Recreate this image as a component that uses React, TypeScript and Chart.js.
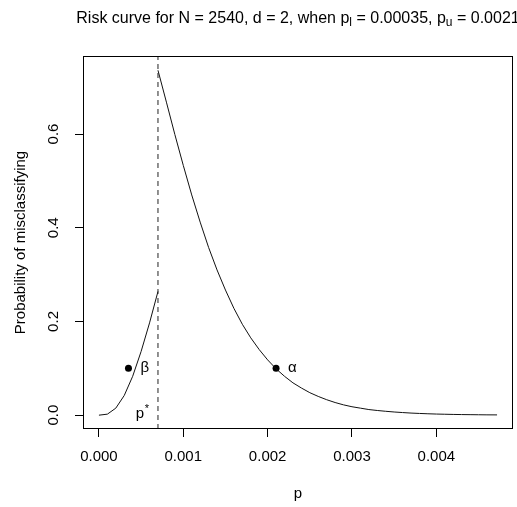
import React, { useEffect, useRef } from "react";
import { Chart, registerables } from "chart.js";

Chart.register(...registerables);

// ---- data ----
const pLeft = [0, 0.0001, 0.0002, 0.0003, 0.0004, 0.0005, 0.0006, 0.0007];
const riskLeft = [0, 0.0022, 0.015, 0.042, 0.083, 0.136, 0.197, 0.264];

const pRight = [
  0.0007, 0.0008, 0.0009, 0.001, 0.0011, 0.0012, 0.0013, 0.0014, 0.0015, 0.0016,
  0.0017, 0.0018, 0.0019, 0.002, 0.0021, 0.0022, 0.0023, 0.0024, 0.0025, 0.0026,
  0.0027, 0.0028, 0.0029, 0.003, 0.0031, 0.0032, 0.0033, 0.0034, 0.0035, 0.0036,
  0.0037, 0.0038, 0.0039, 0.004, 0.0041, 0.0042, 0.0043, 0.0044, 0.0045, 0.0046,
  0.00472,
];
const riskRight = [
  0.736, 0.668, 0.599, 0.533, 0.47, 0.412, 0.358, 0.31, 0.267, 0.228,
  0.194, 0.165, 0.14, 0.118, 0.099, 0.083, 0.069, 0.058, 0.048, 0.04,
  0.033, 0.027, 0.022, 0.018, 0.015, 0.012, 0.01, 0.0083, 0.0068, 0.0056,
  0.0045, 0.0037, 0.003, 0.0024, 0.002, 0.0016, 0.0013, 0.0011, 0.0009, 0.0007,
  0.0006,
];

const pStar = 0.0007;
const markerP = [0.00035, 0.0021];
const markerRisk = [0.1, 0.1];
const markerLabels = ["β", "α"];

const xTicks = [0, 0.001, 0.002, 0.003, 0.004];
const xTickLabels = ["0.000", "0.001", "0.002", "0.003", "0.004"];
const yTicks = [0, 0.2, 0.4, 0.6];
const yTickLabels = ["0.0", "0.2", "0.4", "0.6"];
const xLimits = [-0.000189, 0.004909];
const yLimits = [-0.0295, 0.7665];

const titleMain = ["Risk curve for N = 2540, d = 2, when p", " = 0.00035, p", " = 0.0021"];
const titleSubs = ["l", "u"];
const xTitle = "p";
const yTitle = "Probability of misclassifying";
const pStarLabel = ["p", "*"];

const FONT = '"Liberation Sans", Arial, Helvetica, sans-serif';

export default function App() {
  const ref = useRef<HTMLCanvasElement>(null);

  useEffect(() => {
    const canvas = ref.current!;

    const overlay = {
      id: "overlay",
      afterDraw(chart: any) {
        const ctx: CanvasRenderingContext2D = chart.ctx;
        const { left, right, top, bottom } = chart.chartArea;
        const xs = chart.scales.x;
        const ys = chart.scales.y;
        ctx.save();
        ctx.fillStyle = "#000";
        ctx.strokeStyle = "#000";
        ctx.lineWidth = 1;
        // box
        ctx.strokeRect(left + 0.5, top + 0.5, right - left - 1, bottom - top - 1);

        // title with subscripts
        const tBig = `16px ${FONT}`;
        const tSmall = `12px ${FONT}`;
        const big = `15px ${FONT}`;
        const small = `11px ${FONT}`;
        const segs: { t: string; sub: boolean }[] = [];
        titleMain.forEach((t, i) => {
          segs.push({ t, sub: false });
          if (i < titleSubs.length) segs.push({ t: titleSubs[i], sub: true });
        });
        let total = 0;
        segs.forEach((s) => {
          ctx.font = s.sub ? tSmall : tBig;
          total += ctx.measureText(s.t).width;
        });
        let cx = (left + right) / 2 - total / 2;
        ctx.textAlign = "left";
        ctx.textBaseline = "alphabetic";
        segs.forEach((s) => {
          ctx.font = s.sub ? tSmall : tBig;
          ctx.fillText(s.t, cx, s.sub ? 26 : 22.5);
          cx += ctx.measureText(s.t).width;
        });

        // x tick labels
        ctx.font = big;
        ctx.textAlign = "center";
        ctx.textBaseline = "middle";
        xTicks.forEach((v, i) => {
          ctx.fillText(xTickLabels[i], xs.getPixelForValue(v), 457);
        });
        // y tick labels (rotated)
        yTicks.forEach((v, i) => {
          ctx.save();
          ctx.translate(54, ys.getPixelForValue(v));
          ctx.rotate(-Math.PI / 2);
          ctx.fillText(yTickLabels[i], 0, 0);
          ctx.restore();
        });
        // axis titles
        ctx.textBaseline = "alphabetic";
        ctx.fillText(xTitle, (left + right) / 2, 498);
        ctx.save();
        ctx.translate(24.5, (top + bottom) / 2);
        ctx.rotate(-Math.PI / 2);
        ctx.fillText(yTitle, 0, 0);
        ctx.restore();

        // marker labels
        ctx.textAlign = "left";
        ctx.textBaseline = "middle";
        markerP.forEach((p, i) => {
          ctx.fillText(markerLabels[i], xs.getPixelForValue(p) + 12, ys.getPixelForValue(markerRisk[i]));
        });

        // p* label
        const ax = xs.getPixelForValue(pStar) - 9;
        const ay = ys.getPixelForValue(0);
        ctx.textAlign = "right";
        ctx.textBaseline = "alphabetic";
        ctx.font = small;
        const ws = ctx.measureText(pStarLabel[1]).width;
        ctx.fillText(pStarLabel[1], ax, ay - 3);
        ctx.font = big;
        ctx.fillText(pStarLabel[0], ax - ws - 0.5, ay + 3);
        ctx.restore();
      },
    };

    const gridOpts = {
      drawOnChartArea: false,
      drawTicks: true,
      tickLength: 8,
      color: "#000",
      lineWidth: 1,
    };

    const chart = new Chart(canvas, {
      type: "line",
      data: {
        datasets: [
          {
            data: pLeft.map((p, i) => ({ x: p, y: riskLeft[i] })),
            borderColor: "#111",
            borderWidth: 1,
            pointRadius: 0,
            tension: 0,
            fill: false,
          },
          {
            data: pRight.map((p, i) => ({ x: p, y: riskRight[i] })),
            borderColor: "#111",
            borderWidth: 1,
            pointRadius: 0,
            tension: 0,
            fill: false,
          },
          {
            data: [
              { x: pStar, y: yLimits[0] },
              { x: pStar, y: yLimits[1] },
            ],
            borderColor: "#222",
            borderWidth: 1,
            borderDash: [5, 4],
            pointRadius: 0,
            fill: false,
          },
          {
            type: "scatter",
            data: markerP.map((p, i) => ({ x: p, y: markerRisk[i] })),
            showLine: false,
            pointRadius: 3.5,
            pointBackgroundColor: "#000",
            pointBorderWidth: 0,
            borderColor: "#000",
          } as any,
        ],
      },
      options: {
        responsive: false,
        animation: false,
        devicePixelRatio: 1,
        layout: { padding: { top: 56, right: 4, bottom: 0, left: 0 } },
        plugins: {
          legend: { display: false },
          tooltip: { enabled: false },
          title: { display: false },
        },
        scales: {
          x: {
            type: "linear",
            min: xLimits[0],
            max: xLimits[1],
            afterBuildTicks: (s: any) => {
              s.ticks = xTicks.map((v) => ({ value: v }));
            },
            afterFit: (s: any) => {
              s.height = 78;
            },
            ticks: { display: false },
            grid: gridOpts,
            border: { display: false },
          },
          y: {
            type: "linear",
            min: yLimits[0],
            max: yLimits[1],
            afterBuildTicks: (s: any) => {
              s.ticks = yTicks.map((v) => ({ value: v }));
            },
            afterFit: (s: any) => {
              s.width = 83;
            },
            ticks: { display: false },
            grid: gridOpts,
            border: { display: false },
          },
        },
      } as any,
      plugins: [overlay],
    });
    return () => chart.destroy();
  }, []);

  return (
    <div style={{ position: "absolute", left: 0, top: 0, width: 517, height: 507, background: "#fff" }}>
      <canvas ref={ref} width={517} height={507} style={{ display: "block" }} />
    </div>
  );
}
